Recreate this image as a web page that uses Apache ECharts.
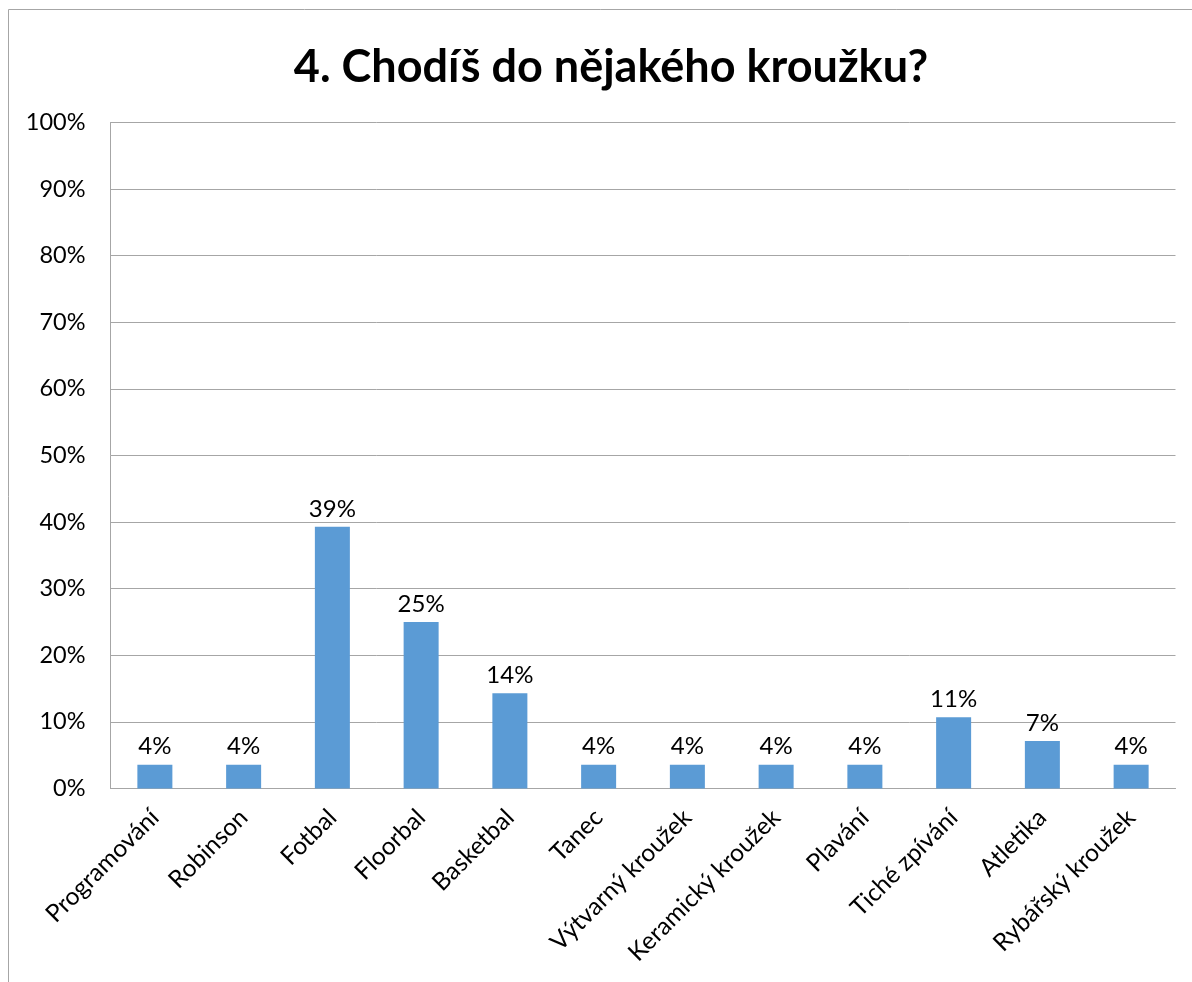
<!DOCTYPE html>
<html><head><meta charset="utf-8">
<script src="https://cdn.jsdelivr.net/npm/echarts@6/dist/echarts.min.js"></script>
<style>html,body{margin:0;padding:0;background:#fff}#c{width:1192px;height:982px}</style>
</head><body><div id="c"></div>
<script>
const categories = ['Programování','Robinson','Fotbal','Floorbal','Basketbal','Tanec','Výtvarný kroužek','Keramický kroužek','Plavání','Tiché zpívání','Atletika','Rybářský kroužek'];
const values = [3.57, 3.57, 39.29, 25.0, 14.29, 3.57, 3.57, 3.57, 3.57, 10.71, 7.14, 3.57];
const titleText = '4. Chodíš do nějakého kroužku?';
const FONT = 'Lato';
const chart = echarts.init(document.getElementById('c'), null, {renderer:'canvas'});
chart.setOption({
  animation:false,
  graphic:[{type:'rect', shape:{x:8.5,y:9.5,width:1300,height:1300}, style:{fill:'none', stroke:'#A6A6A6', lineWidth:1}}],
  title:{text:titleText, left:606, top:40, textAlign:'center',
    textStyle:{fontFamily:FONT, fontWeight:'bold', fontSize:45, color:'#000'}},
  grid:{left:110.5, right:16.5, top:122.5, bottom:193.5, containLabel:false},
  xAxis:{type:'category', data:categories,
    axisLine:{lineStyle:{color:'#A6A6A6', width:1}},
    axisTick:{show:false},
    axisLabel:{rotate:45, interval:0, margin:25, fontFamily:FONT, fontSize:24.5, color:'#000'}},
  yAxis:{type:'value', min:0, max:100, interval:10,
    axisLine:{show:true, lineStyle:{color:'#A6A6A6', width:1}},
    axisTick:{show:false},
    splitLine:{lineStyle:{color:'#A6A6A6', width:1}},
    axisLabel:{formatter:'{value}%', margin:25, fontFamily:FONT, fontSize:23.5, color:'#000'}},
  series:[{type:'bar', data:values, barWidth:35, itemStyle:{color:'#5B9BD5'},
    label:{show:true, position:'top', distance:6, fontFamily:FONT, fontSize:24, color:'#000',
      formatter:p=>Math.round(p.value)+'%'}}]
});
</script></body></html>
